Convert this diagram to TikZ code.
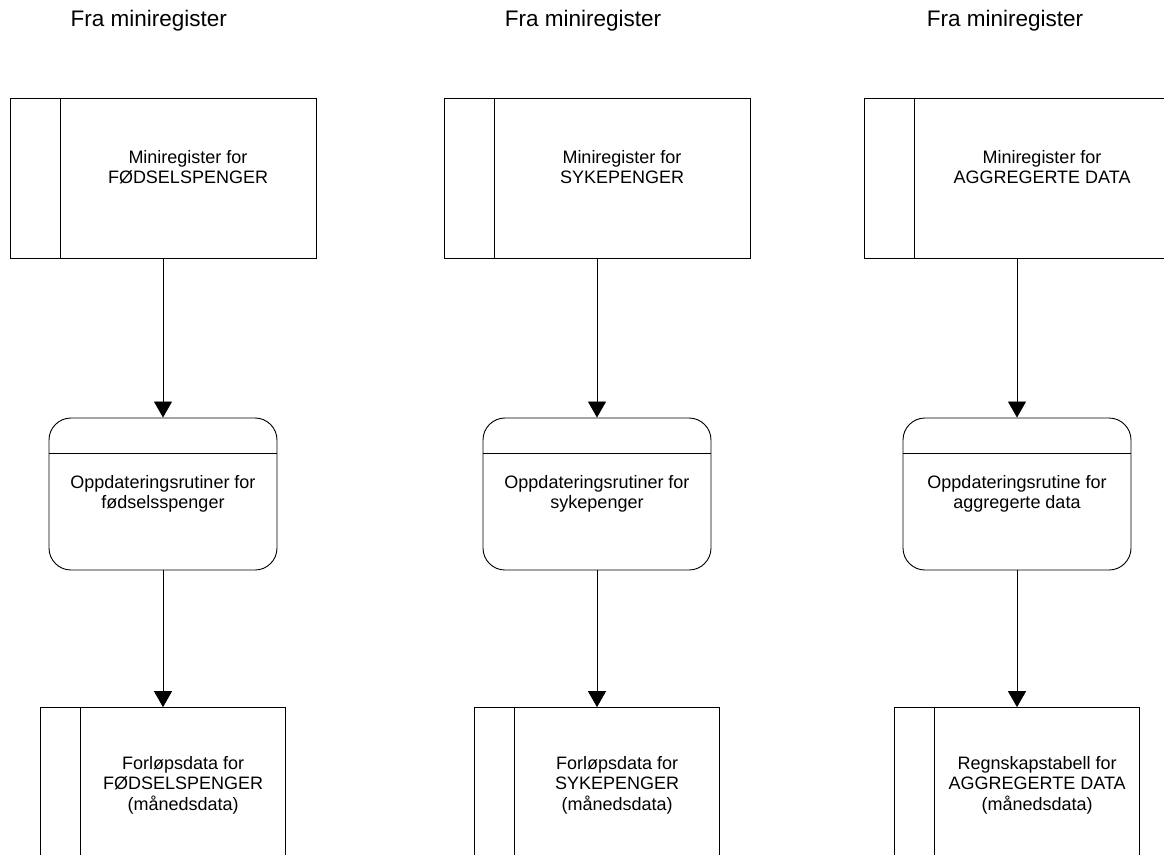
\documentclass[tikz,border=0pt]{standalone}
\usepackage{fontspec}
\setmainfont{Liberation Sans}
\usetikzlibrary{arrows.meta}

\begin{document}
\begin{tikzpicture}[
  boxfont/.style={font=\fontsize{12.8}{14.7}\selectfont, align=center},
  register/.style={draw, line width=0.65pt, minimum width=7.65cm, minimum height=4cm, inner sep=0pt,
    path picture={\draw[line width=0.6pt] ([xshift=1.27cm]path picture bounding box.north west) -- ([xshift=1.27cm]path picture bounding box.south west);}},
  table/.style={draw, line width=0.65pt, minimum width=6.125cm, minimum height=4cm, inner sep=0pt,
    path picture={\draw[line width=0.6pt] ([xshift=1.01cm]path picture bounding box.north west) -- ([xshift=1.01cm]path picture bounding box.south west);}},
  routine/.style={draw, line width=0.65pt, rounded corners=0.55cm, minimum width=5.7cm, minimum height=3.8cm, boxfont,
    path picture={\draw[line width=0.6pt] ([yshift=-0.875cm]path picture bounding box.north west) -- ([yshift=-0.875cm]path picture bounding box.north east);}},
  flow/.style={line width=0.6pt, -{Triangle[length=0.4cm, width=0.45cm]}}
]
\path[use as bounding box, clip] (0,0) rectangle (29.1,-21.35);

% overskrifter
\node[font=\fontsize{16}{19}\selectfont, anchor=base] (h1) at (3.72,-0.6675) {Fra miniregister};
\node[font=\fontsize{16}{19}\selectfont, anchor=base] (h2) at (14.575,-0.6675) {Fra miniregister};
\node[font=\fontsize{16}{19}\selectfont, anchor=base] (h3) at (25.125,-0.6675) {Fra miniregister};

% miniregistre
\node[register] (m1) at (4.075,-4.45) {};
\node[register] (m2) at (14.925,-4.45) {};
\node[register] (m3) at (25.425,-4.45) {};
\node[boxfont] (m1t) at (4.7,-4.18) {Miniregister for\\FØDSELSPENGER};
\node[boxfont] (m2t) at (15.55,-4.18) {Miniregister for\\SYKEPENGER};
\node[boxfont] (m3t) at (26.05,-4.18) {Miniregister for\\AGGREGERTE DATA};

% rutiner
\node[routine] (r1) at (4.075,-12.35) {Oppdateringsrutiner for\\fødselsspenger};
\node[routine] (r2) at (14.925,-12.35) {Oppdateringsrutiner for\\sykepenger};
\node[routine] (r3) at (25.425,-12.35) {Oppdateringsrutine for\\aggregerte data};

% forløpsdata
\node[table] (f1) at (4.075,-19.69) {};
\node[table] (f2) at (14.925,-19.69) {};
\node[table] (f3) at (25.425,-19.69) {};
\node[boxfont] (f1t) at (4.58,-19.63) {Forløpsdata for\\FØDSELSPENGER\\(månedsdata)};
\node[boxfont] (f2t) at (15.43,-19.63) {Forløpsdata for\\SYKEPENGER\\(månedsdata)};
\node[boxfont] (f3t) at (25.93,-19.63) {Regnskapstabell for\\AGGREGERTE DATA\\(månedsdata)};

\draw[flow] (m1) to (r1);
\draw[flow] (m2) to (r2);
\draw[flow] (m3) to (r3);
\draw[flow] (r1) to (f1);
\draw[flow] (r2) to (f2);
\draw[flow] (r3) to (f3);
\end{tikzpicture}
\end{document}
